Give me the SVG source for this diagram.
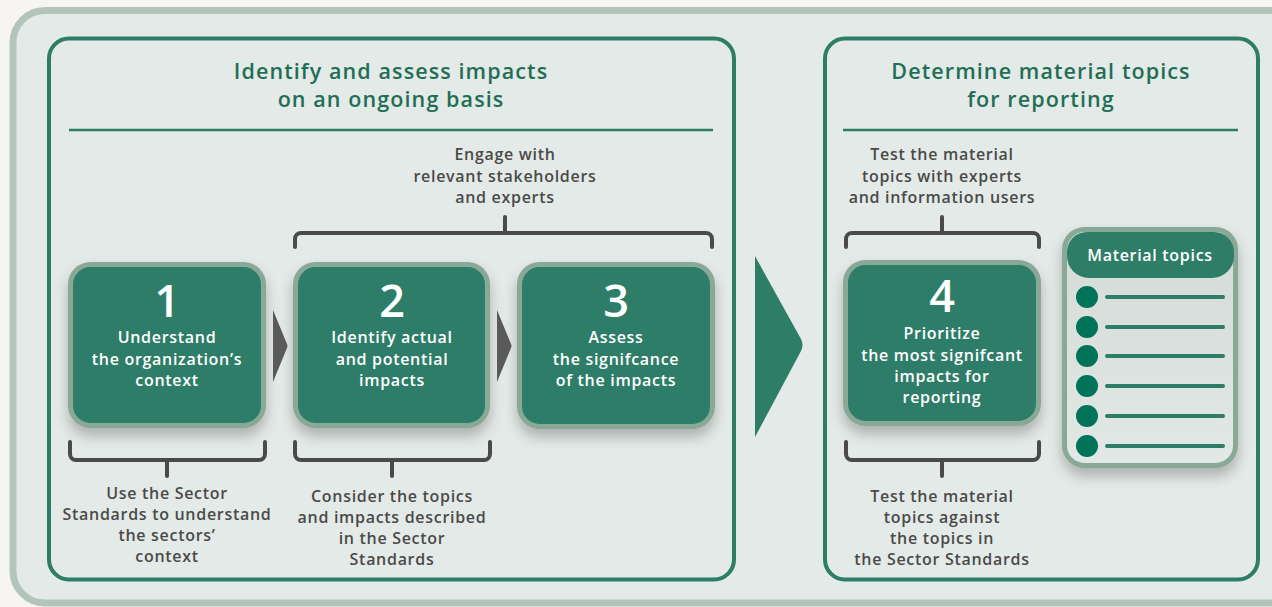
<svg xmlns="http://www.w3.org/2000/svg" width="1272" height="607" viewBox="0 0 1272 607">
<defs>
<style>
.title{font-family:"Open Sans","Noto Sans",sans-serif;font-size:21.5px;font-weight:600;letter-spacing:1.1px;fill:#1f6f56;text-anchor:middle}
.lbl{font-family:"Open Sans","Noto Sans",sans-serif;font-size:16px;font-weight:600;letter-spacing:0.7px;fill:#4a4a4a;text-anchor:middle}
.wt{font-family:"Open Sans","Noto Sans",sans-serif;font-size:16px;font-weight:600;letter-spacing:0.7px;fill:#ffffff;text-anchor:middle}
.num{font-family:"Open Sans","Noto Sans",sans-serif;font-size:45px;font-weight:600;fill:#ffffff;text-anchor:middle}
.panel{fill:none;stroke:#2e7d67;stroke-width:4}
.div{stroke:#2e7d67;stroke-width:2.5}
.box{fill:#2e7d67;stroke:#8aa898;stroke-width:5}
.br{fill:none;stroke:#4a4a4a;stroke-width:4;stroke-linecap:round;stroke-linejoin:round}
.line{stroke:#2e7d67;stroke-width:4;stroke-linecap:round}
.dot{fill:#007358}
</style>
<filter id="sh" x="-20%" y="-20%" width="140%" height="150%">
<feGaussianBlur in="SourceAlpha" stdDeviation="7"/>
<feOffset dx="0" dy="8" result="b"/>
<feComponentTransfer><feFuncA type="linear" slope="0.25"/></feComponentTransfer>
<feMerge><feMergeNode/><feMergeNode in="SourceGraphic"/></feMerge>
</filter>
<linearGradient id="card" x1="0" y1="0" x2="0" y2="1">
<stop offset="0" stop-color="#d3dbd7"/>
<stop offset="1" stop-color="#e2e8e5"/>
</linearGradient>
</defs>
<rect width="1272" height="607" fill="#f7f5f3"/>
<rect x="13" y="10.5" width="1290" height="592.5" rx="32" fill="#e4eae7" stroke="#b3c5bb" stroke-width="7"/>

<g id="panel-left">
<rect class="panel" x="49" y="38.5" width="685" height="541" rx="20"/>
<text class="title" x="391" y="79">Identify and assess impacts</text>
<text class="title" x="391" y="107">on an ongoing basis</text>
<line class="div" x1="69" y1="130" x2="713" y2="130"/>
</g>

<g id="panel-right">
<rect class="panel" x="825" y="38.5" width="433" height="541" rx="20"/>
<text class="title" x="1041" y="79">Determine material topics</text>
<text class="title" x="1041" y="107">for reporting</text>
<line class="div" x1="843" y1="130" x2="1238" y2="130"/>
</g>

<g id="engage">
<text class="lbl" x="505" y="160">Engage with</text>
<text class="lbl" x="505" y="182">relevant stakeholders</text>
<text class="lbl" x="505" y="203">and experts</text>
</g>

<g id="test-experts">
<text class="lbl" x="942" y="160">Test the material</text>
<text class="lbl" x="942" y="182">topics with experts</text>
<text class="lbl" x="942" y="203">and information users</text>
</g>

<g id="step1">
<rect class="box" x="70.5" y="264.5" width="193" height="161" rx="20" filter="url(#sh)"/>
<text class="num" x="167" y="317">1</text>
<text class="wt" x="167" y="343">Understand</text>
<text class="wt" x="167" y="365">the organization’s</text>
<text class="wt" x="167" y="386">context</text>
</g>

<g id="step2">
<rect class="box" x="295.5" y="264.5" width="192" height="161" rx="20" filter="url(#sh)"/>
<text class="num" x="392" y="317">2</text>
<text class="wt" x="392" y="343">Identify actual</text>
<text class="wt" x="392" y="365">and potential</text>
<text class="wt" x="392" y="386">impacts</text>
</g>

<g id="step3">
<rect class="box" x="519.5" y="264.5" width="193" height="162" rx="20" filter="url(#sh)"/>
<text class="num" x="616" y="317">3</text>
<text class="wt" x="616" y="343">Assess</text>
<text class="wt" x="616" y="365">the signifcance</text>
<text class="wt" x="616" y="386">of the impacts</text>
</g>

<g id="step4">
<rect class="box" x="845.5" y="262.5" width="193" height="161" rx="20" filter="url(#sh)"/>
<text class="num" x="942" y="312">4</text>
<text class="wt" x="942" y="339">Prioritize</text>
<text class="wt" x="942" y="361">the most signifcant</text>
<text class="wt" x="942" y="382">impacts for</text>
<text class="wt" x="942" y="403">reporting</text>
</g>

<g id="material-topics">
<rect x="1064.5" y="229.5" width="171" height="236" rx="20" fill="url(#card)" stroke="#8aa898" stroke-width="5" filter="url(#sh)"/>
<path d="M1067 252 a20 20 0 0 1 20 -20 h127 a20 20 0 0 1 20 20 v4 a22 22 0 0 1 -22 22 h-123 a22 22 0 0 1 -22 -22 z" fill="#2e7d67"/>
<text class="wt" x="1150" y="261">Material topics</text>
<circle class="dot" cx="1087" cy="297" r="11"/>
<circle class="dot" cx="1087" cy="327" r="11"/>
<circle class="dot" cx="1087" cy="356" r="11"/>
<circle class="dot" cx="1087" cy="386" r="11"/>
<circle class="dot" cx="1087" cy="416" r="11"/>
<circle class="dot" cx="1087" cy="446" r="11"/>
<line class="line" x1="1107" y1="297" x2="1223" y2="297"/>
<line class="line" x1="1107" y1="327" x2="1223" y2="327"/>
<line class="line" x1="1107" y1="356" x2="1223" y2="356"/>
<line class="line" x1="1107" y1="386" x2="1223" y2="386"/>
<line class="line" x1="1107" y1="416" x2="1223" y2="416"/>
<line class="line" x1="1107" y1="446" x2="1223" y2="446"/>
</g>

<g id="note-sector1">
<text class="lbl" x="167" y="499">Use the Sector</text>
<text class="lbl" x="167" y="520">Standards to understand</text>
<text class="lbl" x="167" y="541">the sectors’</text>
<text class="lbl" x="167" y="562">context</text>
</g>

<g id="note-sector2">
<text class="lbl" x="392" y="502">Consider the topics</text>
<text class="lbl" x="392" y="523">and impacts described</text>
<text class="lbl" x="392" y="544">in the Sector</text>
<text class="lbl" x="392" y="565">Standards</text>
</g>

<g id="note-sector4">
<text class="lbl" x="942" y="502">Test the material</text>
<text class="lbl" x="942" y="523">topics against</text>
<text class="lbl" x="942" y="544">the topics in</text>
<text class="lbl" x="942" y="565">the Sector Standards</text>
</g>

<g id="connectors">
<path class="br" d="M295 247 v-8 a6 6 0 0 1 6 -6 h405 a6 6 0 0 1 6 6 v8 M505 233 v-16"/>
<path class="br" d="M846 247 v-8 a6 6 0 0 1 6 -6 h181 a6 6 0 0 1 6 6 v8 M942 233 v-16"/>
<path class="br" d="M70 442 v12 a6 6 0 0 0 6 6 h183 a6 6 0 0 0 6 -6 v-12 M167 460 v16"/>
<path class="br" d="M295 442 v12 a6 6 0 0 0 6 6 h183 a6 6 0 0 0 6 -6 v-12 M392 460 v16"/>
<path class="br" d="M846 442 v12 a6 6 0 0 0 6 6 h181 a6 6 0 0 0 6 -6 v-12 M942 460 v16"/>
<path d="M273 310 L287 344 Q288 346 287 348 L273 382 Z" fill="#5a5a5a"/>
<path d="M497 310 L511 344 Q512 346 511 348 L497 382 Z" fill="#5a5a5a"/>
<path d="M755 256 L801 339 Q804 345 801 351 L755 437 Z" fill="#2e7d67"/>
</g>
</svg>
